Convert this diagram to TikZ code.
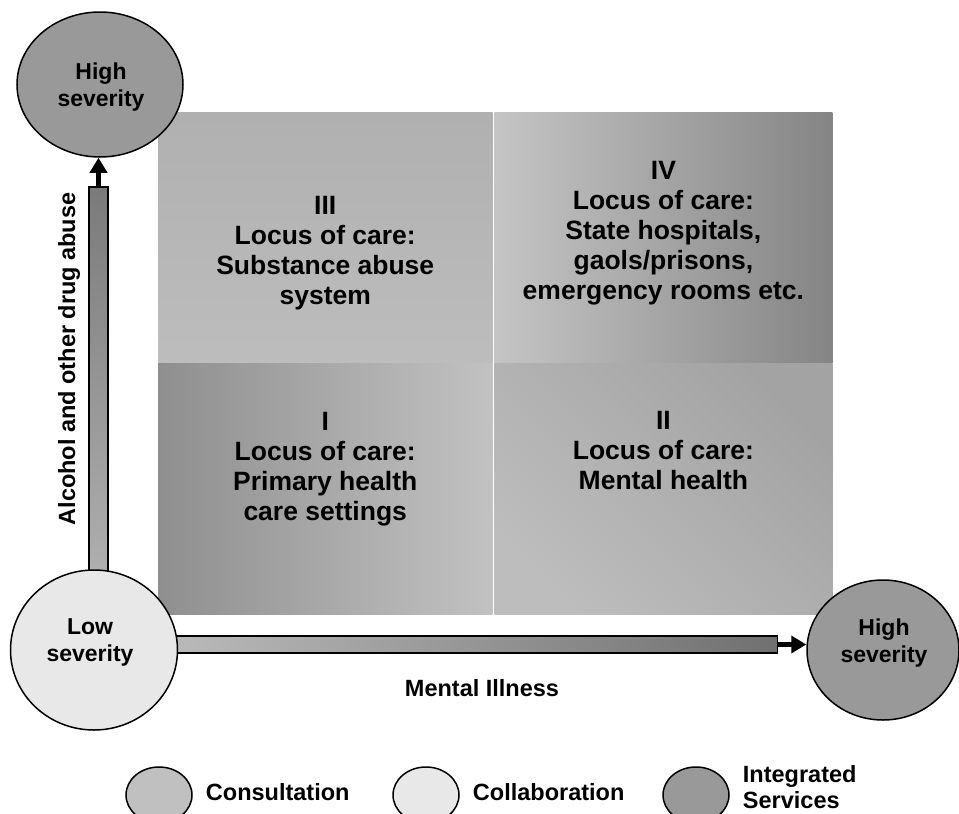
\documentclass[tikz,border=0pt]{standalone}
\usepackage{fontspec}
\setmainfont{Liberation Sans}
\usetikzlibrary{shapes.geometric,positioning,calc,arrows.meta}

\definecolor{INTEGRATED}{HTML}{999999}
\definecolor{CONSULT}{HTML}{C0C0C0}
\definecolor{COLLAB}{HTML}{E8E8E8}

\tikzset{SEVERITY/.style={ellipse,draw,line width=1.5pt,inner sep=0pt}}
\tikzset{SEVTEXT/.style={align=center,inner sep=0pt,font=\fontsize{23}{27}\selectfont\bfseries}}
\tikzset{QUADRANT/.style={rectangle,inner sep=0pt,minimum height=251pt}}
\tikzset{LOCUS/.style={align=center,inner sep=0pt,font=\fontsize{26.5}{30}\selectfont\bfseries}}
\tikzset{BAR/.style={draw,line width=1.5pt}}
\tikzset{ARROW/.style={line width=5pt,-{Triangle[length=15pt,width=17pt]}}}
\tikzset{AXIS/.style={inner sep=0pt,font=\fontsize{23.5}{27}\selectfont\bfseries}}
\tikzset{KEY/.style={ellipse,draw,line width=1.5pt,minimum width=66pt,minimum height=56pt,inner sep=0pt}}
\tikzset{KEYTEXT/.style={inner sep=0pt,align=left,font=\fontsize{23.5}{26}\selectfont\bfseries}}

\begin{document}
\begin{tikzpicture}[x=1pt,y=-1pt]

\useasboundingbox (0,0) rectangle (959,814);

% the four quadrants
\node[QUADRANT, minimum width=334.5pt, top color=black!31, bottom color=black!26] (n_quad_iii) at (325.25,237.5) {};
\node[QUADRANT, minimum width=338pt, right=1.5pt of n_quad_iii, left color=black!23, right color=black!48] (n_quad_iv) {};
\node[QUADRANT, minimum width=334.5pt, below=0pt of n_quad_iii, left color=black!44, right color=black!24] (n_quad_i) {};
\node[QUADRANT, minimum width=338pt, below=0pt of n_quad_iv, top color=black!36, bottom color=black!26, shading angle=-45] (n_quad_ii) {};

\node[LOCUS] (n_locus_iii) at ($(n_quad_iii.center)+(0,16)$) {III\\Locus of care:\\Substance abuse\\system};
\node[LOCUS] (n_locus_iv) at ($(n_quad_iv.center)+(0,-4)$) {IV\\Locus of care:\\State hospitals,\\gaols/prisons,\\emergency rooms etc.};
\node[LOCUS] (n_locus_i) at ($(n_quad_i.center)+(0,-20)$) {I\\Locus of care:\\Primary health\\care settings};
\node[LOCUS] (n_locus_ii) at ($(n_quad_ii.center)+(0,-38)$) {II\\Locus of care:\\Mental health};

% severity ellipses (placed first, filled later over the bars)
\node[SEVERITY, draw=none, minimum width=166pt, minimum height=145pt] (n_abuse_high) at (100,84.5) {};
\node[SEVERITY, draw=none, minimum width=167pt, minimum height=160pt] (n_low) at (94,650) {};
\node[SEVERITY, draw=none, minimum width=152pt, minimum height=140pt] (n_mental_high) at (883,650) {};

% axis bars
\coordinate (c_abuse_end) at ($(n_abuse_high.south)+(-1.5,29)$);
\draw[BAR, top color=black!52, bottom color=black!31] ($(c_abuse_end)+(-9.5,0)$) rectangle ($(n_low.north-|c_abuse_end)+(9.5,12)$);
\draw[ARROW] (c_abuse_end) -- (c_abuse_end|-n_abuse_high.south);

\coordinate (c_mental_end) at ($(n_mental_high.west)+(-29,-5.5)$);
\draw[BAR, left color=black!27, right color=black!56] ($(n_low.east|-c_mental_end)+(-12,-8.5)$) rectangle ($(c_mental_end)+(0,8.5)$);
\draw[ARROW] (c_mental_end) -- (c_mental_end-|n_mental_high.west);

% ellipses over the bar ends
\node[SEVERITY, fill=INTEGRATED, minimum width=166pt, minimum height=145pt] at (n_abuse_high) {};
\node[SEVERITY, fill=COLLAB, minimum width=167pt, minimum height=160pt] at (n_low) {};
\node[SEVERITY, fill=INTEGRATED, minimum width=152pt, minimum height=140pt] at (n_mental_high) {};

\node[SEVTEXT] (n_abuse_high_txt) at ($(n_abuse_high)+(1,3)$) {High\\severity};
\node[SEVTEXT] (n_low_txt) at ($(n_low)+(-4,-8)$) {Low\\severity};
\node[SEVTEXT] (n_mental_high_txt) at ($(n_mental_high)+(1,-7)$) {High\\severity};

\node[AXIS, rotate=90] (n_label_abuse) at (69,359) {Alcohol and other drug abuse};
\node[AXIS] (n_label_mental) at (482,688.5) {Mental Illness};

% key
\node[KEY, fill=CONSULT] (n_key_consult) at (159,795) {};
\node[KEY, fill=COLLAB] (n_key_collab) at (426,795) {};
\node[KEY, fill=INTEGRATED] (n_key_integr) at (696,795) {};
\node[KEYTEXT, anchor=base west] (n_consult) at ($(n_key_consult.east)+(13,5)$) {Consultation};
\node[KEYTEXT, anchor=base west] (n_collab) at ($(n_key_collab.east)+(13,5)$) {Collaboration};
\node[KEYTEXT, anchor=north west] (n_integr) at ($(n_key_integr.east)+(13,-30)$) {Integrated\\Services};

\end{tikzpicture}
\end{document}
